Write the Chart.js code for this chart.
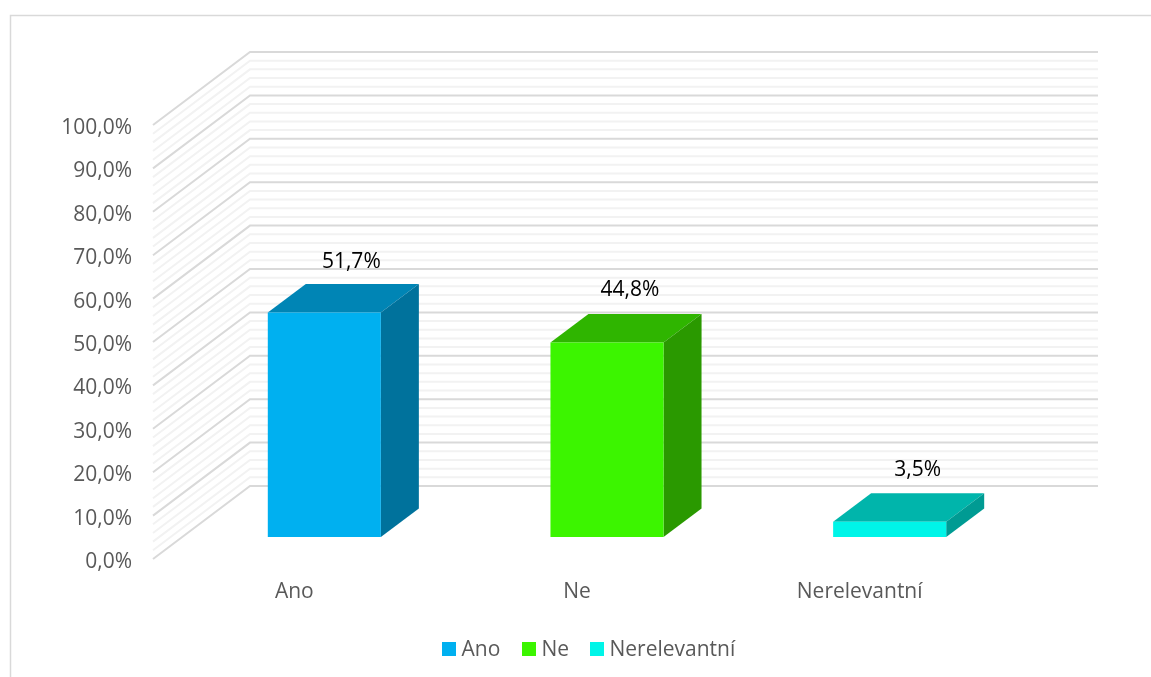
<!DOCTYPE html>
<html>
<head>
<meta charset="utf-8">
<title>Chart</title>
<script src="https://cdn.jsdelivr.net/npm/chart.js@4"></script>
<style>
  html, body { margin: 0; padding: 0; background: #fff; }
  canvas { display: block; }
</style>
</head>
<body>
<canvas id="myChart" width="1151" height="677"></canvas>
<script>
// chart data
var categories = ["Ano", "Ne", "Nerelevantní"];
var values = [51.7, 44.8, 3.5];
var frontColors = ["#00b0f0", "#3cf500", "#00f5e8"];
var topColors = ["#0085b5", "#2fb500", "#00b5ab"];
var sideColors = ["#00729c", "#2a9900", "#009b93"];

var fontName = "'Open Sans', sans-serif";
var fontSize = 21;

function czPercent(v) {
  return v.toFixed(1).replace(".", ",") + "%";
}

// fake 3D: back wall, side wall, bar faces
var wallDx = 97, wallDy = -73;
var barDx = 30, barDy = -22;
var depthDx = 38, depthDy = -28.5;

var threeD = {
  id: "threeD",
  beforeDatasetsDraw: function (chart) {
    var ctx = chart.ctx;
    var area = chart.chartArea;
    var y = chart.scales.y;

    // grid on the walls, 4 minor lines between the major ones
    ctx.save();
    for (var v = 100; v >= 0; v -= 2) {
      var py = y.getPixelForValue(v);
      var major = v % 10 === 0;
      ctx.strokeStyle = major ? "#d9d9d9" : "#f2f2f2";
      ctx.lineWidth = 2;
      ctx.beginPath();
      ctx.moveTo(area.left, py);
      ctx.lineTo(area.left + wallDx, py + wallDy);
      ctx.lineTo(area.right + wallDx, py + wallDy);
      ctx.stroke();
    }
    ctx.restore();

    // the library draws the front faces, they stand inside the floor
    ctx.save();
    ctx.translate(barDx, barDy);
    chart.getDatasetMeta(0).data.forEach(function (bar, i) {
      var l = bar.x - bar.width / 2;
      var r = bar.x + bar.width / 2;
      ctx.fillStyle = topColors[i];
      ctx.beginPath();
      ctx.moveTo(l, bar.y);
      ctx.lineTo(l + depthDx, bar.y + depthDy);
      ctx.lineTo(r + depthDx, bar.y + depthDy);
      ctx.lineTo(r, bar.y);
      ctx.closePath();
      ctx.fill();
      ctx.fillStyle = sideColors[i];
      ctx.beginPath();
      ctx.moveTo(r, bar.y);
      ctx.lineTo(r + depthDx, bar.y + depthDy);
      ctx.lineTo(r + depthDx, bar.base + depthDy);
      ctx.lineTo(r, bar.base);
      ctx.closePath();
      ctx.fill();
    });
  },
  afterDatasetsDraw: function (chart) {
    var ctx = chart.ctx;
    ctx.restore();

    // value labels
    var nudgeX = [0, -4, 1];
    var nudgeY = [0, -2, -1];
    ctx.save();
    ctx.font = fontSize + "px " + fontName;
    ctx.fillStyle = "#000";
    ctx.textAlign = "center";
    ctx.textBaseline = "middle";
    chart.getDatasetMeta(0).data.forEach(function (bar, i) {
      ctx.fillText(czPercent(values[i]), bar.x + barDx + 27 + nudgeX[i], bar.y + barDy - 51 + nudgeY[i]);
    });
    ctx.restore();
  },
  afterDraw: function (chart) {
    var ctx = chart.ctx;
    ctx.save();

    // outer frame
    ctx.strokeStyle = "#d9d9d9";
    ctx.lineWidth = 1.5;
    ctx.beginPath();
    ctx.moveTo(10.5, 677);
    ctx.lineTo(10.5, 15.5);
    ctx.lineTo(1151, 15.5);
    ctx.stroke();

    // legend
    ctx.font = fontSize + "px " + fontName;
    ctx.textBaseline = "middle";
    var legendX = [442, 522, 590];
    categories.forEach(function (c, i) {
      ctx.fillStyle = frontColors[i];
      ctx.fillRect(legendX[i], 642, 14, 14);
      ctx.fillStyle = "#595959";
      ctx.fillText(c, legendX[i] + 19.5, 650);
    });
    ctx.restore();
  }
};

new Chart(document.getElementById("myChart"), {
  type: "bar",
  data: {
    labels: categories,
    datasets: [{
      data: values,
      backgroundColor: frontColors,
      barPercentage: 0.4,
      categoryPercentage: 1
    }]
  },
  options: {
    responsive: false,
    animation: false,
    layout: { padding: { top: 125, right: 150, bottom: 0, left: 0 } },
    plugins: { legend: { display: false }, tooltip: { enabled: false } },
    scales: {
      x: {
        grid: { display: false, drawTicks: false },
        border: { display: false },
        ticks: { color: "#595959", font: { family: fontName, size: fontSize }, padding: 20, maxRotation: 0 },
        afterFit: function (s) { s.height = 118; s.paddingLeft = 0; s.paddingRight = 0; }
      },
      y: {
        min: 0,
        max: 100,
        grid: { display: false, drawTicks: false },
        border: { display: false },
        ticks: {
          stepSize: 10,
          color: "#595959",
          font: { family: fontName, size: fontSize },
          padding: 21,
          labelOffset: 3,
          callback: function (v) { return czPercent(v); }
        },
        afterFit: function (s) { s.width = 153; s.paddingTop = 0; s.paddingBottom = 0; }
      }
    }
  },
  plugins: [threeD]
});
</script>
</body>
</html>
